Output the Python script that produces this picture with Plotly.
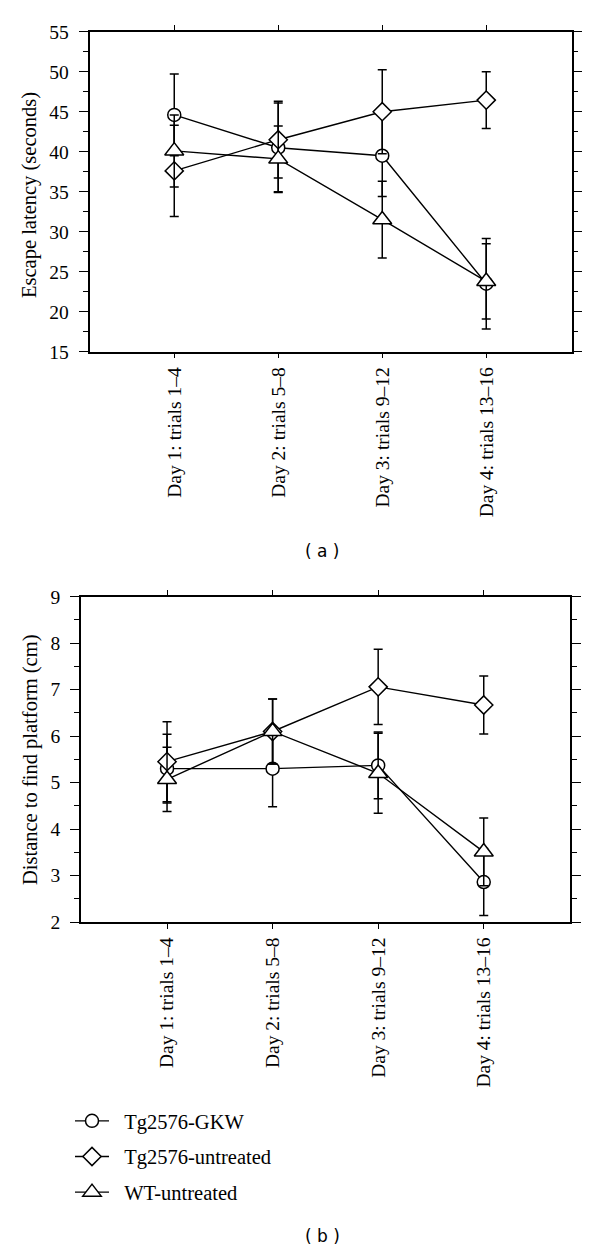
import plotly.graph_objects as go

# ---- data ----
categories = ["Day 1: trials 1\u20134", "Day 2: trials 5\u20138",
              "Day 3: trials 9\u201312", "Day 4: trials 13\u201316"]
series_names = ["Tg2576-GKW", "Tg2576-untreated", "WT-untreated"]

# (a) escape latency (seconds)
lat_gkw = [44.6, 40.5, 39.5, 23.5]
lat_gkw_err = [5.1, 5.6, 5.1, 5.65]
lat_untr = [37.6, 41.5, 45.0, 46.45]
lat_untr_err = [5.7, 4.8, 5.25, 3.55]
lat_wt = [40.1, 39.1, 31.5, 23.8]
lat_wt_err = [4.5, 4.1, 4.8, 4.7]

# (b) distance to find platform (cm)
dist_gkw = [5.3, 5.3, 5.37, 2.86]
dist_gkw_err = [0.74, 0.82, 0.72, 0.72]
dist_untr = [5.45, 6.1, 7.06, 6.67]
dist_untr_err = [0.86, 0.7, 0.81, 0.625]
dist_wt = [5.07, 6.1, 5.2, 3.51]
dist_wt_err = [0.69, 0.7, 0.86, 0.73]

W, H = 600, 1252
OFF = 8  # default page body margin of the browser
SERIF = "Liberation Serif, Times New Roman, serif"
symbols = ["circle", "diamond", "triangle-up"]
msizes = [13, 14, 16.5]

fig = go.Figure()

def add_series(ys, errs, xa, ya, showlegend):
    for i, (y, e) in enumerate(zip(ys, errs)):
        fig.add_trace(go.Scatter(
            x=categories, y=y, name="\u00a0\u00a0" + series_names[i],
            mode="lines+markers", xaxis=xa, yaxis=ya,
            legendgroup=series_names[i], showlegend=showlegend,
            line=dict(color="black", width=1.4),
            marker=dict(symbol=symbols[i], size=msizes[i],
                        color="white", line=dict(color="black", width=1.5)),
            error_y=dict(type="data", array=e, visible=True, color="black",
                         thickness=1.5, width=4.5),
        ))

add_series([lat_gkw, lat_untr, lat_wt], [lat_gkw_err, lat_untr_err, lat_wt_err],
           "x", "y", False)
add_series([dist_gkw, dist_untr, dist_wt], [dist_gkw_err, dist_untr_err, dist_wt_err],
           "x2", "y2", True)

def px_x(p):
    return (p - OFF) / W

def px_y(p):
    return 1 - (p - OFF) / H

xcommon = dict(type="category", range=[-0.815, 3.82], showline=True, linecolor="black",
               linewidth=1.5, mirror="ticks", ticks="outside", ticklen=5, tickwidth=1.3,
               tickcolor="black", tickangle=-90, showgrid=False, zeroline=False,
               automargin=False, ticklabelstandoff=1,
               tickfont=dict(family=SERIF, size=19.5, color="black"), fixedrange=True)
ycommon = dict(showline=True, linecolor="black", linewidth=1.5, mirror="ticks",
               ticks="outside", ticklen=9, tickwidth=1.3, tickcolor="black",
               showgrid=False, zeroline=False, automargin=False, ticklabelstandoff=6,
               tickfont=dict(family=SERIF, size=19.5, color="black"))

fig.update_layout(
    width=W, height=H, margin=dict(l=0, r=0, t=0, b=0, autoexpand=False),
    paper_bgcolor="white", plot_bgcolor="white",
    xaxis=dict(xcommon, domain=[px_x(89.5), px_x(571.5)], anchor="y"),
    yaxis=dict(ycommon, domain=[px_y(351.7), px_y(31.7)], anchor="x",
               range=[15, 55], dtick=5, tick0=15,
               minor=dict(dtick=2.5, tick0=15, ticks="outside", ticklen=5,
                          tickwidth=1.3, tickcolor="black")),
    xaxis2=dict(xcommon, domain=[px_x(81), px_x(570.3)], anchor="y2"),
    yaxis2=dict(ycommon, domain=[px_y(922), px_y(596.7)], anchor="x2",
                range=[2, 9], dtick=1, tick0=2,
                minor=dict(dtick=0.5, tick0=2, ticks="outside", ticklen=5,
                           tickwidth=1.3, tickcolor="black")),
    showlegend=True,
    legend=dict(x=px_x(70), y=px_y(1101), xanchor="left", yanchor="top",
                font=dict(family=SERIF, size=20.5, color="black"),
                bgcolor="rgba(0,0,0,0)", itemwidth=34, tracegroupgap=6,
                itemclick=False, itemdoubleclick=False),
    annotations=[
        dict(text="Escape latency (seconds)", x=px_x(30), y=px_y(195),
             xref="paper", yref="paper", textangle=-90, showarrow=False,
             xanchor="center", yanchor="middle",
             font=dict(family=SERIF, size=20.5, color="black")),
        dict(text="Distance to find platform (cm)", x=px_x(30), y=px_y(760),
             xref="paper", yref="paper", textangle=-90, showarrow=False,
             xanchor="center", yanchor="middle",
             font=dict(family=SERIF, size=20.5, color="black")),
        dict(text="( a )", x=px_x(322), y=px_y(551), xref="paper", yref="paper",
             showarrow=False, xanchor="center", yanchor="middle",
             font=dict(family="DejaVu Sans, Verdana, sans-serif", size=17, color="black")),
        dict(text="( b )", x=px_x(322), y=px_y(1236), xref="paper", yref="paper",
             showarrow=False, xanchor="center", yanchor="middle",
             font=dict(family="DejaVu Sans, Verdana, sans-serif", size=17, color="black")),
    ],
)

fig.write_html("out.html")
